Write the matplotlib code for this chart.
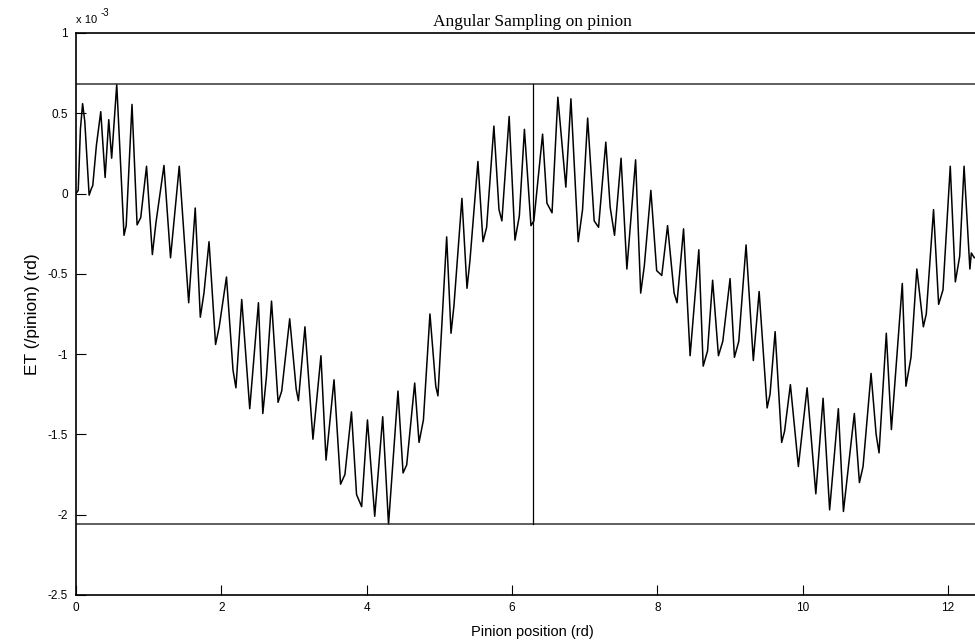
import numpy as np
import matplotlib
matplotlib.use("Agg")
import matplotlib.pyplot as plt

plt.rcParams['font.family'] = ['Liberation Sans', 'DejaVu Sans']
plt.rcParams['axes.unicode_minus'] = False

# pinion position (rd) and transmission error (x 1e-3 rd), peaks/troughs of the trace
pos = [0.00, 0.03, 0.06, 0.09, 0.12, 0.18, 0.21, 0.23, 0.28, 0.34,
       0.40, 0.45, 0.49, 0.56, 0.66, 0.69, 0.77, 0.84, 0.89, 0.97,
       1.05, 1.10, 1.21, 1.30, 1.42, 1.55, 1.64, 1.71, 1.76, 1.83,
       1.92, 1.97, 2.07, 2.16, 2.20, 2.28, 2.39, 2.51, 2.57, 2.62,
       2.69, 2.78, 2.83, 2.94, 3.03, 3.06, 3.15, 3.26, 3.37, 3.44,
       3.55, 3.64, 3.70, 3.79, 3.86, 3.93, 4.01, 4.11, 4.22, 4.30,
       4.43, 4.50, 4.55, 4.66, 4.72, 4.78, 4.87, 4.95, 4.98, 5.10,
       5.16, 5.20, 5.31, 5.38, 5.42, 5.53, 5.60, 5.65, 5.75, 5.82,
       5.86, 5.96, 6.04, 6.10, 6.17, 6.26, 6.30, 6.42, 6.48, 6.55,
       6.63, 6.74, 6.81, 6.91, 6.97, 7.04, 7.13, 7.19, 7.29, 7.35,
       7.41, 7.50, 7.58, 7.70, 7.77, 7.82, 7.91, 7.99, 8.06, 8.14,
       8.23, 8.27, 8.36, 8.45, 8.57, 8.63, 8.69, 8.76, 8.84, 8.90,
       9.00, 9.06, 9.12, 9.22, 9.32, 9.40, 9.51, 9.55, 9.62, 9.71,
       9.75, 9.83, 9.94, 10.06, 10.18, 10.28, 10.37, 10.49, 10.56, 10.71,
       10.78, 10.83, 10.94, 11.01, 11.05, 11.15, 11.22, 11.37, 11.42, 11.49,
       11.57, 11.66, 11.70, 11.80, 11.87, 11.93, 12.03, 12.10, 12.16, 12.22,
       12.30, 12.32, 12.36, 12.40]
et = [0.00, 0.02, 0.40, 0.56, 0.45, -0.01, 0.03, 0.05, 0.30, 0.51,
      0.10, 0.46, 0.22, 0.68, -0.26, -0.20, 0.555, -0.195, -0.15, 0.17,
      -0.38, -0.18, 0.175, -0.40, 0.17, -0.68, -0.09, -0.77, -0.62, -0.30,
      -0.94, -0.83, -0.52, -1.10, -1.21, -0.66, -1.34, -0.68, -1.37, -1.14,
      -0.67, -1.30, -1.23, -0.78, -1.22, -1.29, -0.83, -1.53, -1.01, -1.66,
      -1.16, -1.81, -1.75, -1.36, -1.875, -1.95, -1.41, -2.01, -1.39, -2.06,
      -1.23, -1.74, -1.69, -1.18, -1.55, -1.41, -0.75, -1.20, -1.26, -0.27,
      -0.87, -0.70, -0.03, -0.59, -0.42, 0.20, -0.30, -0.21, 0.42, -0.10,
      -0.17, 0.48, -0.29, -0.14, 0.40, -0.20, -0.17, 0.37, -0.06, -0.12,
      0.60, 0.04, 0.59, -0.30, -0.10, 0.47, -0.17, -0.21, 0.32, -0.085,
      -0.26, 0.22, -0.47, 0.21, -0.62, -0.45, 0.02, -0.48, -0.51, -0.20,
      -0.62, -0.68, -0.22, -1.01, -0.35, -1.075, -0.98, -0.54, -1.01, -0.92,
      -0.53, -1.02, -0.92, -0.32, -1.04, -0.61, -1.335, -1.25, -0.86, -1.55,
      -1.48, -1.19, -1.70, -1.21, -1.87, -1.275, -1.97, -1.34, -1.98, -1.37,
      -1.80, -1.70, -1.12, -1.50, -1.615, -0.87, -1.47, -0.56, -1.20, -1.02,
      -0.47, -0.83, -0.75, -0.10, -0.69, -0.60, 0.17, -0.55, -0.39, 0.17,
      -0.47, -0.37, -0.40, -0.39]

yticks = [1, 0.5, 0, -0.5, -1, -1.5, -2, -2.5]
ytick_labels = ['1', '0.5', '0', '-0.5', '-1', '-1.5', '-2', '-2.5']
xticks = [0, 2, 4, 6, 8, 10, 12]

fig = plt.figure(figsize=(9.75, 6.43), dpi=100)
ax = fig.add_axes([0.078, 0.0747, 0.9366, 0.874])

ax.plot(pos, et, color='black', lw=1.1)

ymax = max(et)
ymin = min(et)
ax.axhline(ymax, color='#333333', lw=1.1)
ax.axhline(ymin, color='#333333', lw=1.1)
ax.plot([2 * np.pi, 2 * np.pi], [ymin, ymax], color='black', lw=0.9)

ax.set_xlim(0, 4 * np.pi)
ax.set_ylim(-2.5, 1)
ax.set_xticks(xticks)
ax.set_xticklabels([str(t) for t in xticks])
ax.set_yticks(yticks)
ax.set_yticklabels(ytick_labels)
ax.tick_params(direction='in', length=7, width=0.8, labelsize=8.5, pad=6)
ax.tick_params(axis='x', pad=5)
for s in ax.spines.values():
    s.set_linewidth(1.2)

ax.set_xlabel('Pinion position (rd)', fontsize=10.5, labelpad=8)
ax.set_ylabel('ET (/pinion) (rd)', fontsize=12.5, labelpad=5)
ax.set_title('Angular Sampling on pinion', fontsize=12.5, family='Liberation Serif', pad=5)

# exponent marker above the y axis
ax.text(0.0, 1.014, 'x 10', transform=ax.transAxes, fontsize=8,
        ha='left', va='bottom')
ax.text(0.0265, 1.026, '-3', transform=ax.transAxes, fontsize=7,
        ha='left', va='bottom')

fig.savefig('out.png', dpi=100)
